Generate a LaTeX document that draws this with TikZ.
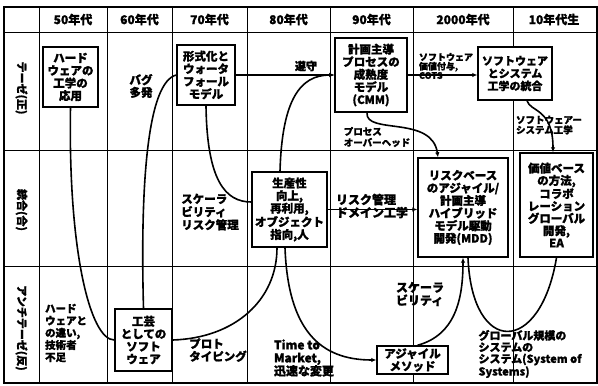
\documentclass[tikz,border=0pt]{standalone}
\usepackage{fontspec}
\setmainfont{Noto Sans CJK JP}[BoldFeatures={FakeBold=1.2}]
\usetikzlibrary{arrows.meta}
\begin{document}
\begin{tikzpicture}[x=1pt,y=-1pt,
  grid/.style={line width=0.9pt},
  frame/.style={line width=1.8pt},
  box/.style={draw, line width=1.4pt, fill=white, align=center, inner sep=0.5pt,
    font=\bfseries\fontsize{11.5}{12.6}\selectfont},
  hdr/.style={font=\bfseries\fontsize{12}{13}\selectfont, inner sep=0pt},
  rowlbl/.style={rotate=-90, font=\bfseries\fontsize{11}{12}\selectfont, inner sep=0pt},
  lbl/.style={align=left, inner sep=0pt, font=\bfseries\fontsize{11.5}{12.6}\selectfont},
  conn/.style={line width=1.6pt},
  arr/.style={conn, -{Latex[length=5pt,width=4.5pt]}}]
\useasboundingbox (0,0) rectangle (598,386);
% table grid
\foreach \xx in {39,107,172,247,330,413,513} \draw[grid] (\xx,7) -- (\xx,383);
\foreach \yy in {32,150,266} \draw[grid] (4,\yy) -- (597,\yy);
\draw[frame] (4,7) rectangle (597,383);
% headers
\node[hdr] (h50) at (73,19.5) {50年代};
\node[hdr] (h60) at (139.5,19.5) {60年代};
\node[hdr] (h70) at (209.5,19.5) {70年代};
\node[hdr] (h80) at (288.5,19.5) {80年代};
\node[hdr] (h90) at (371.5,19.5) {90年代};
\node[hdr] (h00) at (463,19.5) {2000年代};
\node[hdr] (h10) at (554,19.5) {10年代生};
% row labels
\node[rowlbl] (r1) at (21.5,88) {テーゼ(正)};
\node[rowlbl] (r2) at (21.5,210) {統合(合)};
\node[rowlbl] (r3) at (21.5,328) {アンチテーゼ(反)};
% boxes
\node[box, minimum width=55pt, minimum height=60pt] (hw) at (70.5,77) {ハード\\ウェアの\\工学の\\応用};
\node[box, minimum width=58pt, minimum height=60pt] (wf) at (206,75) {形式化と\\ウォータ\\フォール\\モデル};
\node[box, minimum width=72pt, minimum height=74pt] (cmm) at (371,75) {計画主導\\プロセスの\\成熟度\\モデル\\(CMM)};
\node[box, minimum width=74pt, minimum height=53pt, font=\bfseries\fontsize{11}{12.6}\selectfont] (sse) at (515,73.5) {ソフトウェア\\とシステム\\工学の統合};
\node[box, minimum width=75pt, minimum height=75pt] (prod) at (289.5,209.5) {生産性\\向上,\\再利用,\\オブジェクト\\指向,人};
\node[box, minimum width=90pt, minimum height=99pt] (risk) at (463,207.5) {リスクベース\\のアジャイル/\\計画主導\\ハイブリッド\\モデル駆動\\開発(MDD)};
\node[box, minimum width=73pt, minimum height=104pt, font=\bfseries\fontsize{11.5}{12.3}\selectfont] (val) at (556.5,205) {価値ベース\\の方法,\\コラボ\\レーション\\グローバル\\開発,\\EA};
\node[box, minimum width=57pt, minimum height=62pt] (craft) at (143.5,340) {工芸\\としての\\ソフト\\ウェア};
\node[box, minimum width=71pt, minimum height=28pt] (agile) at (412.5,360) {アジャイル\\メソッド};
% connectors
\draw[conn] (hw.south) .. controls (68,250) and (90,340) .. (craft.west);
\draw[conn] (craft.north) .. controls (140,180) and (148,82) .. (wf.west);
\draw[conn] (wf.south) .. controls (207,180) and (225,202) .. ([yshift=7.5pt]prod.west);
\draw[arr] (wf.east) -- (cmm.west);
\draw[conn] (craft.east) .. controls (235,338) and (277,300) .. ([xshift=-12.5pt]prod.south);
\draw[arr] ([xshift=-9.5pt]prod.north) .. controls (282,100) and (300,75) .. (cmm.west);
\draw[arr] ([xshift=-4.5pt]prod.south) .. controls (288,330) and (320,360) .. (agile.west);
\draw[arr] (cmm.east) -- (cmm.east -| sse.west);
\draw[arr] ([xshift=-4pt]cmm.south) .. controls (365,135) and (432,115) .. ([xshift=-25pt]risk.north);
\draw[arr] ([xshift=12pt]sse.south) .. controls (530,112) and (553,108) .. ([xshift=-3.5pt]val.north);
\draw[arr] (prod.east) -- (prod.east -| risk.west);
\draw[arr] ([xshift=5pt]agile.north) .. controls (455,335) and (463,300) .. (risk.south);
\draw[conn] ([xshift=5pt]risk.south) .. controls (472,356) and (540,356) .. (val.south);
% labels
\node[lbl] (bug) at (141,86) {バグ\\多発};
\node[lbl, font=\bfseries\fontsize{11}{12}\selectfont] (junshu) at (306,66) {遵守};
\node[lbl, font=\bfseries\fontsize{9}{9.2}\selectfont] (cots) at (446,66) {ソフトウェア\\価値付与,\\COTS};
\node[lbl, font=\bfseries\fontsize{9.5}{11}\selectfont] (poh) at (377,137) {プロセス\\オーバーヘッド};
\node[lbl, font=\bfseries\fontsize{9.5}{10}\selectfont] (sselbl) at (549,125) {ソフトウェアー\\システム工学};
\node[lbl, font=\bfseries\fontsize{11.5}{13}\selectfont] (scal1) at (210,212) {スケーラ\\ビリティ\\リスク管理};
\node[lbl, font=\bfseries\fontsize{12}{13}\selectfont] (rdom) at (372,206) {リスク管理\\ドメイン工学};
\node[lbl, font=\bfseries\fontsize{10.5}{12.2}\selectfont] (hwdiff) at (66,333) {ハード\\ウェアと\\の違い,\\技術者\\不足};
\node[lbl] (proto) at (218,350) {プロト\\タイピング};
\node[lbl, font=\bfseries\fontsize{12}{13}\selectfont] (ttm) at (304,358) {Time to\\Market,\\迅速な変更};
\node[lbl, font=\bfseries\fontsize{12}{13}\selectfont] (scal2) at (420,294) {スケーラ\\ビリティ};
\node[lbl, font=\bfseries\fontsize{11}{11.6}\selectfont] (sos) at (530,354) {グローバル規模の\\システムの\\システム(System of\\Systems)};
\end{tikzpicture}
\end{document}
